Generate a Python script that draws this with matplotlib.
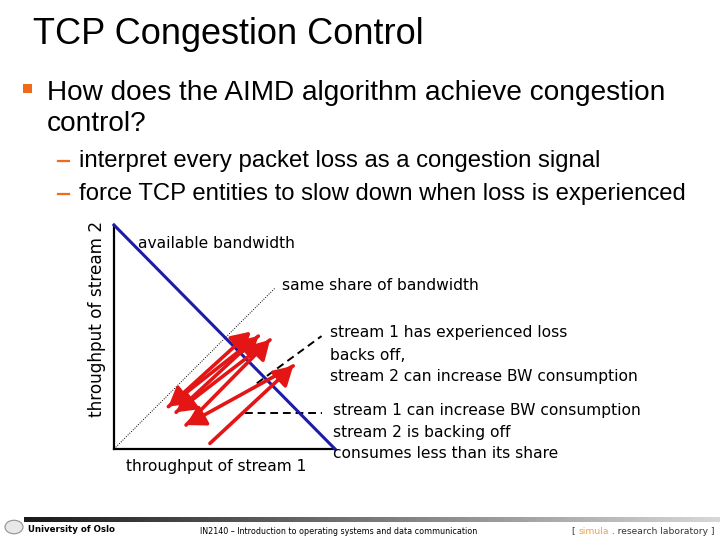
import numpy as np
import matplotlib
matplotlib.use("Agg")
import matplotlib.pyplot as plt
from matplotlib.patches import Rectangle, Circle
from matplotlib.lines import Line2D

# slide texts
title = "TCP Congestion Control"
bullet = ["How does the AIMD algorithm achieve congestion", "control?"]
subs = ["interpret every packet loss as a congestion signal",
        "force TCP entities to slow down when loss is experienced"]

# chart data (axes units: 1 = available bandwidth)
bw_x = [0.0, 1.0]
bw_y = [1.0, 0.0]
fair_x = [0.0, 0.73]
fair_y = [0.0, 0.72]
# AIMD trajectory of (stream 1, stream 2) throughput
traj_x = [0.434, 0.811, 0.326, 0.706, 0.281, 0.653, 0.246, 0.619]
traj_y = [0.025, 0.371, 0.107, 0.487, 0.164, 0.504, 0.189, 0.524]
# pointer lines for the notes
loss_x = [0.646, 0.939]
loss_y = [0.293, 0.504]
incr_x = [0.593, 0.939]
incr_y = [0.162, 0.162]

W, H = 720, 540
def px(x, y):
    return x / W, 1 - y / H

fig = plt.figure(figsize=(7.2, 5.4), dpi=100)
fig.patch.set_facecolor("white")
orange = "#f06a1a"
sans = ["Liberation Sans", "DejaVu Sans"]

fig.text(*px(33, 44), title, fontsize=26, family=sans, va="baseline")
fig.patches.append(Rectangle(px(23, 93), 9 / W, 9 / H, transform=fig.transFigure,
                             color=orange, lw=0))
fig.text(*px(47, 100), bullet[0], fontsize=20.2, family=sans, va="baseline")
fig.text(*px(47, 131), bullet[1], fontsize=20.2, family=sans, va="baseline")
for i, yy in enumerate([167, 200]):
    x0, y0 = px(58, yy - 6)
    x1, _ = px(69, yy - 6)
    fig.lines.append(Line2D([x0, x1], [y0, y0], transform=fig.transFigure,
                            color=orange, lw=1.6))
    fig.text(*px(79, yy), subs[i], fontsize=17.2, family=sans, va="baseline")

# chart axes
ax = fig.add_axes([114 / W, 1 - 449 / H, 221 / W, 224 / H])
ax.set_xlim(0, 1)
ax.set_ylim(0, 1)
ax.set_xticks([])
ax.set_yticks([])
for s in ["top", "right"]:
    ax.spines[s].set_visible(False)
for s in ["left", "bottom"]:
    ax.spines[s].set_linewidth(1.6)
ax.set_facecolor("none")

ax.plot(fair_x, fair_y, color="black", lw=0.7, ls=(0, (1, 1.5)))
ax.plot(bw_x, bw_y, color="#1c1ca8", lw=2.2, clip_on=False, zorder=3)
ax.plot(loss_x, loss_y, color="black", lw=1.4, ls=(0, (4, 2.5)), clip_on=False, zorder=4)
ax.plot(incr_x, incr_y, color="black", lw=1.4, ls=(0, (4, 2.5)), clip_on=False, zorder=2)
for i in range(len(traj_x) - 1):
    ax.annotate("", xy=(traj_x[i + 1], traj_y[i + 1]), xytext=(traj_x[i], traj_y[i]),
                arrowprops=dict(arrowstyle="-|>,head_length=0.6,head_width=0.35",
                                color="#e41515", lw=2.6, mutation_scale=19,
                                shrinkA=0, shrinkB=0), zorder=5)

fs = 11.2
notes = [
    (138, 243, "available bandwidth"),
    (282, 286, "same share of bandwidth"),
    (330, 333, "stream 1 has experienced loss"),
    (330, 355, "backs off,"),
    (330, 377, "stream 2 can increase BW consumption"),
    (333, 411, "stream 1 can increase BW consumption"),
    (333, 432, "stream 2 is backing off"),
    (333, 454, "consumes less than its share"),
    (126, 466, "throughput of stream 1"),
]
for x, y, s in notes:
    fig.text(*px(x, y), s, fontsize=fs, va="center")
fig.text(*px(97, 319), "throughput of stream 2", fontsize=12.2, va="center",
         ha="center", rotation=90)

# footer
fax = fig.add_axes([24 / W, 1 - 522 / H, (W - 24) / W, 5 / H])
grad = np.linspace(0, 1, 256).reshape(1, -1)
fax.imshow(grad, aspect="auto", cmap=matplotlib.colors.LinearSegmentedColormap.from_list(
    "g", ["#1a1a1a", "#d8d8d8"]))
fax.axis("off")
fig.patches.append(Circle(px(14, 527), 9 / W, transform=fig.transFigure,
                          fc="#e8e8e8", ec="#909090", lw=0.8))
fig.text(*px(28, 530), "University of Oslo", fontsize=6.2, weight="bold", va="center")
fig.text(*px(200, 531), "IN2140 \u2013 Introduction to operating systems and data communication",
         fontsize=5.75, va="center")
t1 = fig.text(*px(572, 531), "[ ", fontsize=6.6, va="center", color="#333333")
t2 = fig.text(0, 0, "simula", fontsize=6.6, color="#f0a040", va="center")
t3 = fig.text(0, 0, " . research laboratory ]", fontsize=6.6, color="#333333", va="center")
fig.canvas.draw()
r = fig.canvas.get_renderer()
bb = t1.get_window_extent(r)
t2.set_position((bb.x1 / W, t1.get_position()[1]))
bb = t2.get_window_extent(r)
t3.set_position((bb.x1 / W, t1.get_position()[1]))

fig.savefig("out.png", dpi=100)
